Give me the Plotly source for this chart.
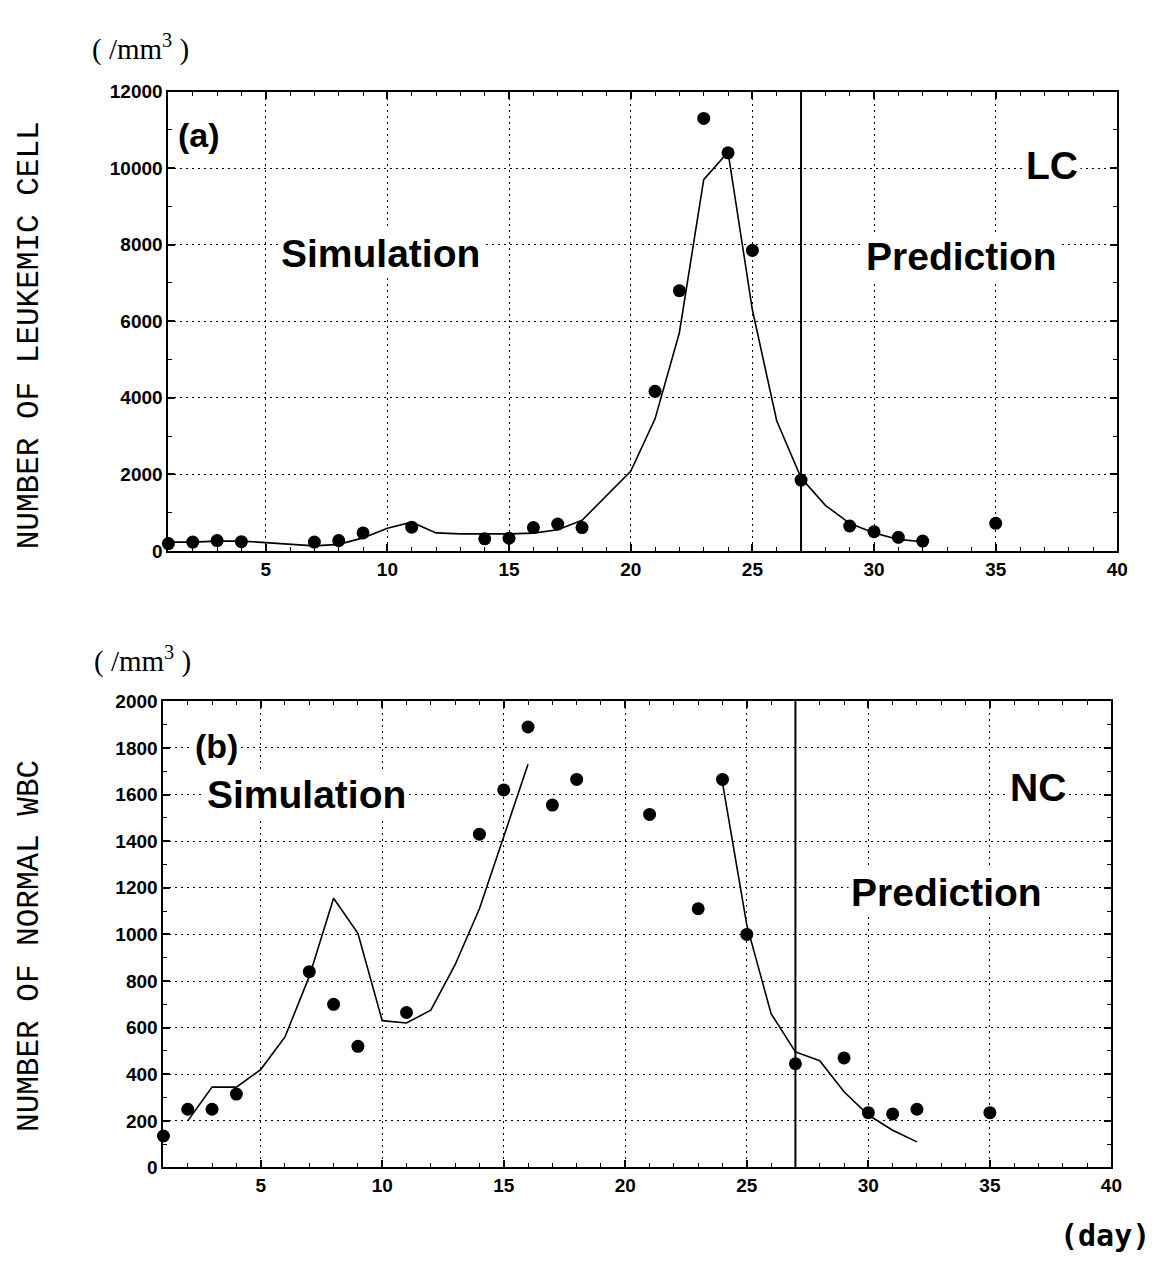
import plotly.graph_objects as go

# ---------------- data ----------------
# (a) leukemic cells
lc_obs_days = [1, 2, 3, 4, 7, 8, 9, 11, 14, 15, 16, 17, 18, 21, 22, 23, 24, 25, 27, 29, 30, 31, 32, 35]
lc_obs_vals = [190, 230, 270, 240, 230, 270, 470, 620, 315, 330, 610, 700, 610,
               4170, 6800, 11300, 10400, 7850, 1850, 650, 500, 355, 255, 720]
lc_sim_days = list(range(1, 33))
lc_sim_vals = [230, 230, 255, 255, 215, 170, 130, 170, 340, 590, 750, 470, 445, 445, 445, 465,
               550, 800, 1450, 2080, 3450, 5700, 9700, 10420, 6300, 3400, 1910, 1190, 720, 470, 300, 240]

# (b) normal WBC
nc_obs_days = [1, 2, 3, 4, 7, 8, 9, 11, 14, 15, 16, 17, 18, 21, 23, 24, 25, 27, 29, 30, 31, 32, 35]
nc_obs_vals = [135, 250, 250, 315, 840, 700, 520, 665, 1430, 1620, 1890, 1555, 1665,
               1515, 1110, 1665, 1000, 445, 470, 235, 230, 250, 235]
nc_sim1_days = list(range(2, 17))
nc_sim1_vals = [200, 345, 345, 420, 560, 820, 1155, 1005, 630, 620, 675, 870, 1110, 1425, 1730]
nc_sim2_days = list(range(24, 33))
nc_sim2_vals = [1650, 1040, 660, 496, 458, 325, 225, 160, 110]

prediction_start_day = 27

x_range = [1, 40]
lc_range = [0, 12000]
nc_range = [0, 2000]

# ---------------- figure ----------------
BLACK = "black"
fig = go.Figure()

fig.add_trace(go.Scatter(x=lc_sim_days, y=lc_sim_vals, mode="lines",
                         line=dict(color=BLACK, width=1.6), xaxis="x", yaxis="y", showlegend=False))
fig.add_trace(go.Scatter(x=lc_obs_days, y=lc_obs_vals, mode="markers",
                         marker=dict(color=BLACK, size=13), xaxis="x", yaxis="y", showlegend=False,
                         cliponaxis=False))
fig.add_trace(go.Scatter(x=nc_sim1_days, y=nc_sim1_vals, mode="lines",
                         line=dict(color=BLACK, width=1.6), xaxis="x2", yaxis="y2", showlegend=False))
fig.add_trace(go.Scatter(x=nc_sim2_days, y=nc_sim2_vals, mode="lines",
                         line=dict(color=BLACK, width=1.6), xaxis="x2", yaxis="y2", showlegend=False))
fig.add_trace(go.Scatter(x=nc_obs_days, y=nc_obs_vals, mode="markers",
                         marker=dict(color=BLACK, size=13), xaxis="x2", yaxis="y2", showlegend=False,
                         cliponaxis=False))

tickfont = dict(family="Liberation Sans", size=19, color=BLACK, weight="bold")
grid = dict(showgrid=True, gridcolor=BLACK, gridwidth=1.4, griddash="2px,4px")
frame = dict(showline=True, linecolor=BLACK, linewidth=2, mirror="ticks",
             ticks="inside", ticklen=7, tickwidth=1.5, tickcolor=BLACK, zeroline=False,
             tickfont=tickfont, tickformat="d")


def xaxis(domain, anchor):
    return dict(domain=domain, anchor=anchor, range=x_range, tick0=0, dtick=5,
                minor=dict(dtick=1, tick0=0, ticks="inside", ticklen=4, tickwidth=1.3,
                           tickcolor=BLACK, showgrid=False),
                **grid, **frame)


def yaxis(domain, anchor, rng, dtick, minor_dtick):
    return dict(domain=domain, anchor=anchor, range=rng, tick0=0, dtick=dtick,
                minor=dict(dtick=minor_dtick, tick0=0, ticks="inside", ticklen=4, tickwidth=1.3,
                           tickcolor=BLACK, showgrid=False),
                **grid, **frame)


W, H = 1166, 1267
fig.update_layout(
    width=W, height=H,
    margin=dict(l=0, r=0, t=0, b=0),
    paper_bgcolor="white", plot_bgcolor="white",
    xaxis=xaxis([170 / W, 1128 / W], "y"),
    yaxis=yaxis([1 - 550 / H, 1 - 83 / H], "x", lc_range, 2000, 1000),
    xaxis2=xaxis([165 / W, 1122 / W], "y2"),
    yaxis2=yaxis([1 - 1177 / H, 1 - 703 / H], "x2", nc_range, 200, 100),
)

# prediction boundary lines
for xr, yr in (("x", "y domain"), ("x2", "y2 domain")):
    fig.add_shape(type="line", xref=xr, yref=yr, x0=prediction_start_day, x1=prediction_start_day,
                  y0=0, y1=1, line=dict(color=BLACK, width=2))

label_font = dict(family="Liberation Sans", size=39, color=BLACK, weight="bold")


def label(text, x, y, xr, yr, size=39):
    f = dict(label_font)
    f["size"] = size
    fig.add_annotation(text=text, x=x, y=y, xref=xr, yref=yr, showarrow=False,
                       xanchor="center", yanchor="middle",
                       font=f, bgcolor="white", borderpad=2)


label("(a)", 2.25, 10870, "x", "y", 34)
label("Simulation", 9.7, 7780, "x", "y")
label("Prediction", 33.6, 7700, "x", "y")
label("LC", 37.3, 10080, "x", "y")

label("(b)", 3.2, 1810, "x2", "y2", 34)
label("Simulation", 6.9, 1600, "x2", "y2")
label("NC", 37.0, 1630, "x2", "y2")
label("Prediction", 33.2, 1180, "x2", "y2")

# axis titles
mono = dict(family="Liberation Mono", size=31, color=BLACK)
fig.add_annotation(text="NUMBER OF LEUKEMIC CELL", x=30 / W, y=1 - 331 / H,
                   xref="paper", yref="paper", textangle=-90, showarrow=False, font=mono,
                   xanchor="center", yanchor="middle")
fig.add_annotation(text="NUMBER OF NORMAL WBC", x=30 / W, y=1 - 952 / H,
                   xref="paper", yref="paper", textangle=-90, showarrow=False, font=mono,
                   xanchor="center", yanchor="middle")

unit_font = dict(family="Liberation Serif", size=29, color=BLACK)
unit_text = "(\u00a0/mm<sup>3</sup>\u00a0)"
fig.add_annotation(text=unit_text, x=142 / W, y=1 - 38 / H, xref="paper", yref="paper",
                   showarrow=False, font=unit_font, xanchor="center", yanchor="middle")
fig.add_annotation(text=unit_text, x=144 / W, y=1 - 660 / H, xref="paper", yref="paper",
                   showarrow=False, font=unit_font, xanchor="center", yanchor="middle")

fig.add_annotation(text="(day)", x=1116 / W, y=1 - 1246 / H, xref="paper", yref="paper",
                   showarrow=False, xanchor="center", yanchor="middle",
                   font=dict(family="DejaVu Sans Mono", size=30, color=BLACK, weight="bold"))

fig.write_html("out.html")
